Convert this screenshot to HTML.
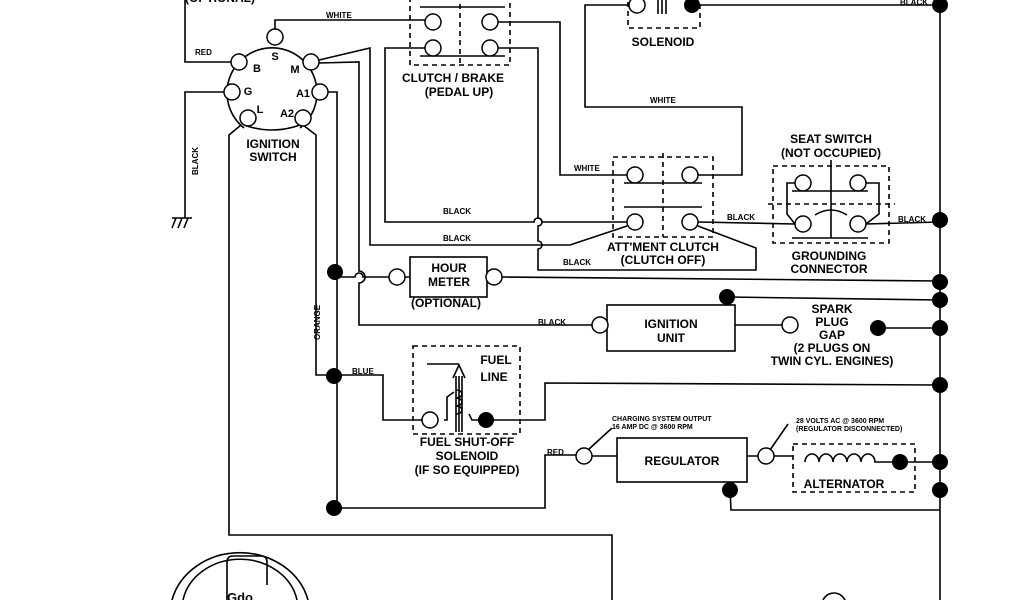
<!DOCTYPE html>
<html><head><style>html,body{margin:0;padding:0;background:#fff}svg{display:block}text{font-family:"Liberation Sans",Arial,sans-serif;fill:#000}</style></head><body>
<svg width="1024" height="600" viewBox="0 0 1024 600" xmlns="http://www.w3.org/2000/svg">
<g fill="none" stroke="#000" stroke-width="1.6">
<path d="M244,128 A45,45 0 1 1 300,128"/>
<path d="M244,125 Q272,135 300,125"/>
<path d="M241,125 L229,135 L229,535 L612,535 L612,600"/>
<path d="M303,125 L316,135 L316,375 L334,375"/>
<path d="M185,0 L185,62 L231,62"/>
<path d="M275,30 L275,20 L425,20"/>
<path d="M224,92 L185,92 L185,218 M172,218 L192,218 M176,218 L172,228 M182,218 L178,228 M188,218 L184,228"/>
<path d="M319,60 L370,48 L370,245 L570,245 L627,226"/>
<path d="M319,63 L359,62 L359,271 A4,4 0 0 1 359,283 L359,325 L592,325"/>
<path d="M425,48 L385,48 L385,222 L534,222 A4,4 0 0 1 542,222 L627,222"/>
<path d="M498,48 L538,48 L538,218 A4,4 0 0 1 538,226 L538,241 A4,4 0 0 1 538,249 L538,270 L756,270 L756,248 L698,226"/>
<path d="M498,22 L560,22 L560,175 L627,175"/>
<path d="M420,7 L505,7 M420,56 L505,56"/>
<rect x="410" y="-5" width="100" height="70" stroke-dasharray="5,4"/>
<path d="M460,-5 L460,65" stroke-dasharray="5,4"/>
<path d="M328,92 L337,92 L337,508 L545,508 L545,455 L576,455"/>
<path d="M337,277 L355,277 A4,4 0 0 1 363,277 L389,277"/>
<rect x="410" y="257" width="77" height="40"/>
<path d="M402,277 L410,277 M487,277 L489,277 M502,277 L940,281"/>
<rect x="607" y="305" width="128" height="46"/>
<path d="M600,325 L607,325 M735,325 L782,325 M727,297 L940,300 M878,328 L940,328"/>
<path d="M334,375 L383,375 L383,420 L422,420 M486,420 L545,420 L545,383 L940,385"/>
<rect x="413" y="346" width="107" height="88" stroke-dasharray="5,4"/>
<path d="M427,364 L459,364 M444,420 L447,420 L447,397 L454,392 M456,376 L456,432 M459,376 L459,432 M462,376 L462,432 M453,378 L459,365 L465,378 M469,414 L472,420 L478,420"/>
<path d="M456,390 a6,4 0 1 1 0,8 a6,4 0 1 1 0,8 a6,4 0 1 1 0,8" />
<rect x="617" y="438" width="130" height="44"/>
<path d="M592,456 L617,456 M747,456 L758,456 M774,456 L793,456 M900,462 L940,462 M730,490 L731,510 L940,510"/>
<rect x="793" y="444" width="122" height="48" stroke-dasharray="5,4"/>
<path d="M805,462 a7,8 0 0 1 14,0 a7,8 0 0 1 14,0 a7,8 0 0 1 14,0 a7,8 0 0 1 14,0 a7,8 0 0 1 14,0 L900,462"/>
<path d="M612,428 L588,450 M788,424 L770,450"/>
<rect x="628" y="-5" width="72" height="33" stroke-dasharray="5,4"/>
<path d="M629,5 L585,5 L585,107 L742,107 L742,175 L698,175 M692,5 L940,5 M658,0 L658,14 M662,0 L662,14 M666,0 L666,14"/>
<rect x="613" y="157" width="100" height="80" stroke-dasharray="5,4"/>
<path d="M663,153 L663,237" stroke-dasharray="5,4"/>
<path d="M624,183 L702,183 M624,207 L702,207"/>
<path d="M698,222 L795,224 M866,224 L940,222"/>
<rect x="773" y="166" width="116" height="77" stroke-dasharray="5,4"/>
<path d="M768,204 L895,204" stroke-dasharray="5,4"/>
<path d="M831,160 L831,238 M792,191 L868,191 M792,238 L868,238 M815,215 Q831,205 847,215"/>
<path d="M795,183 L787,183 L787,214 L795,224 M866,183 L879,183 L879,214 L866,224"/>
<path d="M940,0 L940,600"/>
<path d="M172,600 A70,62 0 0 1 308,600 M183,600 A58,50 0 0 1 297,600 M227,600 L227,562 Q227,556 233,556 L261,556 Q267,556 267,562 L267,585"/>
<circle cx="834" cy="605" r="12"/>
</g>
<g fill="#fff" stroke="#000" stroke-width="1.5">
<circle cx="275" cy="37" r="8"/><circle cx="239" cy="62" r="8"/><circle cx="311" cy="62" r="8"/>
<circle cx="232" cy="92" r="8"/><circle cx="320" cy="92" r="8"/><circle cx="248" cy="118" r="8"/><circle cx="303" cy="118" r="8"/>
<circle cx="433" cy="22" r="8"/><circle cx="490" cy="22" r="8"/><circle cx="433" cy="48" r="8"/><circle cx="490" cy="48" r="8"/>
<circle cx="637" cy="5" r="8"/>
<circle cx="635" cy="175" r="8"/><circle cx="690" cy="175" r="8"/><circle cx="635" cy="222" r="8"/><circle cx="690" cy="222" r="8"/>
<circle cx="803" cy="183" r="8"/><circle cx="858" cy="183" r="8"/><circle cx="803" cy="224" r="8"/><circle cx="858" cy="224" r="8"/>
<circle cx="397" cy="277" r="8"/><circle cx="494" cy="277" r="8"/>
<circle cx="600" cy="325" r="8"/><circle cx="790" cy="325" r="8"/>
<circle cx="430" cy="420" r="8"/><circle cx="584" cy="456" r="8"/><circle cx="766" cy="456" r="8"/>
</g>
<g fill="#000">
<circle cx="692" cy="5" r="8"/><circle cx="940" cy="5" r="8"/><circle cx="940" cy="220" r="8"/>
<circle cx="335" cy="272" r="8"/><circle cx="940" cy="282" r="8"/><circle cx="727" cy="297" r="8"/><circle cx="940" cy="300" r="8"/>
<circle cx="878" cy="328" r="8"/><circle cx="940" cy="328" r="8"/><circle cx="334" cy="376" r="8"/><circle cx="940" cy="385" r="8"/>
<circle cx="486" cy="420" r="8"/><circle cx="900" cy="462" r="8"/><circle cx="940" cy="462" r="8"/><circle cx="940" cy="490" r="8"/>
<circle cx="730" cy="490" r="8"/><circle cx="334" cy="508" r="8"/>
</g>
<g font-size="8" font-weight="bold">
<text x="195" y="55">RED</text><text x="326" y="18">WHITE</text><text x="900" y="5">BLACK</text>
<text x="650" y="103">WHITE</text><text x="574" y="171">WHITE</text>
<text x="443" y="214">BLACK</text><text x="443" y="241">BLACK</text><text x="563" y="265">BLACK</text>
<text x="727" y="220">BLACK</text><text x="898" y="222">BLACK</text><text x="538" y="325">BLACK</text>
<text x="352" y="374">BLUE</text><text x="547" y="455">RED</text>
<text transform="translate(198,175) rotate(-90)">BLACK</text>
<text transform="translate(320,340) rotate(-90)">ORANGE</text>
<text x="612" y="421" font-size="7">CHARGING SYSTEM OUTPUT</text><text x="612" y="429" font-size="7">16 AMP DC @ 3600 RPM</text>
<text x="796" y="423" font-size="7">28 VOLTS AC @ 3600 RPM</text><text x="796" y="431" font-size="7">(REGULATOR DISCONNECTED)</text>
</g>
<g font-size="12" text-anchor="middle" font-weight="bold">
<text x="257" y="72" font-size="11">B</text><text x="275" y="60" font-size="11">S</text><text x="295" y="73" font-size="11">M</text>
<text x="248" y="95" font-size="11">G</text><text x="303" y="97" font-size="11">A1</text><text x="260" y="113" font-size="11">L</text><text x="287" y="117" font-size="11">A2</text>
<text x="273" y="148">IGNITION</text><text x="273" y="161">SWITCH</text>
<text x="453" y="82">CLUTCH / BRAKE</text><text x="459" y="96">(PEDAL UP)</text>
<text x="663" y="46">SOLENOID</text>
<text x="831" y="143">SEAT SWITCH</text><text x="831" y="157">(NOT OCCUPIED)</text>
<text x="663" y="251">ATT'MENT CLUTCH</text><text x="663" y="264">(CLUTCH OFF)</text>
<text x="829" y="260">GROUNDING</text><text x="829" y="273">CONNECTOR</text>
<text x="449" y="272">HOUR</text><text x="449" y="286">METER</text><text x="446" y="307">(OPTIONAL)</text>
<text x="671" y="328">IGNITION</text><text x="671" y="342">UNIT</text>
<text x="832" y="313">SPARK</text><text x="832" y="326">PLUG</text><text x="832" y="339">GAP</text>
<text x="832" y="352">(2 PLUGS ON</text><text x="832" y="365">TWIN CYL. ENGINES)</text>
<text x="496" y="364">FUEL</text><text x="494" y="381">LINE</text>
<text x="467" y="446">FUEL SHUT-OFF</text><text x="467" y="460">SOLENOID</text><text x="467" y="474">(IF SO EQUIPPED)</text>
<text x="682" y="465">REGULATOR</text><text x="844" y="488">ALTERNATOR</text>
<text x="220" y="2">(OPTIONAL)</text>
<text x="240" y="602" font-size="13">Gdo</text>
</g>
</svg>
</body></html>
